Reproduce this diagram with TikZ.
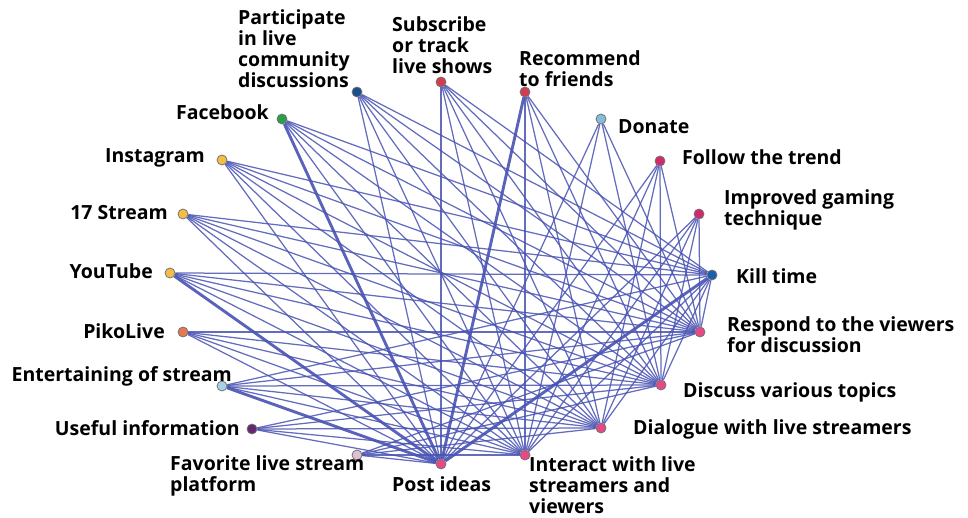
\documentclass[tikz,border=0pt]{standalone}
\usepackage{fontspec}
\setmainfont{Open Sans}
\usetikzlibrary{backgrounds}

\definecolor{edgeblue}{RGB}{72,82,178}
\definecolor{cGreen}{RGB}{40,160,70}
\definecolor{cNavy}{RGB}{25,80,140}
\definecolor{cRed}{RGB}{210,60,80}
\definecolor{cSky}{RGB}{130,190,215}
\definecolor{cMagenta}{RGB}{210,40,110}
\definecolor{cBlue}{RGB}{25,95,170}
\definecolor{cPink}{RGB}{232,72,135}
\definecolor{cLilac}{RGB}{222,192,212}
\definecolor{cPurple}{RGB}{100,40,110}
\definecolor{cIce}{RGB}{165,212,232}
\definecolor{cOrange}{RGB}{230,120,80}
\definecolor{cGold}{RGB}{242,190,70}

\tikzset{
  dot/.style={circle, draw=black!55, line width=0.8pt, minimum size=10pt, inner sep=0pt},
  lbl/.style={font=\fontsize{19.5}{21}\selectfont\bfseries, inner sep=0pt, align=left, anchor=west},
  link/.style={draw=edgeblue, line width=1.25pt, opacity=0.85},
  heavy/.style={draw=edgeblue, line width=2.9pt, opacity=0.9},
}

\begin{document}
\begin{tikzpicture}[x=1pt, y=-1pt]
\useasboundingbox (0,0) rectangle (968,518);

% vertices around the ellipse
\node[dot, fill=cGreen]   (fb)    at (282,119) {};
\node[dot, fill=cNavy]    (part)  at (357,92)  {};
\node[dot, fill=cRed]     (subs)  at (441,82)  {};
\node[dot, fill=cRed]     (reco)  at (525,92)  {};
\node[dot, fill=cSky]     (don)   at (601,119) {};
\node[dot, fill=cMagenta] (foll)  at (660,161) {};
\node[dot, fill=cMagenta] (impr)  at (699,214) {};
\node[dot, fill=cBlue]    (kill)  at (712,275) {};
\node[dot, fill=cPink]    (resp)  at (700,332) {};
\node[dot, fill=cPink]    (disc)  at (661,385) {};
\node[dot, fill=cPink]    (dial)  at (601,428) {};
\node[dot, fill=cPink]    (inter) at (525,455) {};
\node[dot, fill=cPink]    (post)  at (441,464) {};
\node[dot, fill=cLilac]   (fav)   at (357,455) {};
\node[dot, fill=cPurple]  (use)   at (252,429) {};
\node[dot, fill=cIce]     (ent)   at (222,386) {};
\node[dot, fill=cOrange]  (piko)  at (183,332) {};
\node[dot, fill=cGold]    (yt)    at (170,273) {};
\node[dot, fill=cGold]    (s17)   at (183,214) {};
\node[dot, fill=cGold]    (insta) at (222,160) {};

% connectors
\begin{scope}[on background layer]
  \foreach \s in {fb,part,subs,reco,foll,impr,kill,insta,s17,yt,piko,ent,use,fav}{
    \foreach \t in {inter,dial,disc,resp}{
      \draw[link] (\s) -- (\t);
    }
  }
  \foreach \s in {part,subs,foll,impr,insta,s17,piko,use,fav,don}{
    \draw[link] (\s) -- (post);
  }
  \foreach \s in {fb,reco,yt,kill,ent}{
    \draw[heavy] (\s) -- (post);
  }
  \foreach \t in {inter,disc,resp}{
    \draw[link] (don) -- (\t);
  }
  \foreach \s in {fb,part,subs,insta,s17,yt,ent}{
    \draw[link] (\s) -- (kill);
  }
\end{scope}

% labels
\node[lbl] (tpart)  at (238,48.5) {Participate\\in live\\community\\discussions};
\node[lbl] (tsubs)  at (392,45.5) {Subscribe\\or track\\live shows};
\node[lbl] (treco)  at (519,68.5) {Recommend\\to friends};
\node[lbl] (tdon)   at (618,127)  {Donate};
\node[lbl] (tfoll)  at (682,157)  {Follow the trend};
\node[lbl] (timpr)  at (724,209.5) {Improved gaming\\technique};
\node[lbl] (tkill)  at (736,276)  {Kill time};
\node[lbl] (tresp)  at (727,335)  {Respond to the viewers\\for discussion};
\node[lbl] (tdisc)  at (683,392)  {Discuss various topics};
\node[lbl] (tdial)  at (633,429)  {Dialogue with live streamers};
\node[lbl] (tinter) at (529,485)  {Interact with live\\streamers and\\viewers};
\node[lbl] (tpost)  at (392,484)  {Post ideas};
\node[lbl] (tfav)   at (170,476)  {Favorite live stream\\platform};
\node[lbl, anchor=east] (tuse)  at (240,428) {Useful information};
\node[lbl, anchor=east] (tent)  at (232,376) {Entertaining of stream};
\node[lbl, anchor=east] (tpiko) at (165,331) {PikoLive};
\node[lbl, anchor=east] (tyt)   at (153,271) {YouTube};
\node[lbl, anchor=east] (ts17)  at (168,213) {17 Stream};
\node[lbl, anchor=east] (tinsta) at (205,158) {Instagram};
\node[lbl, anchor=east] (tfb)   at (269,112) {Facebook};
\end{tikzpicture}
\end{document}
